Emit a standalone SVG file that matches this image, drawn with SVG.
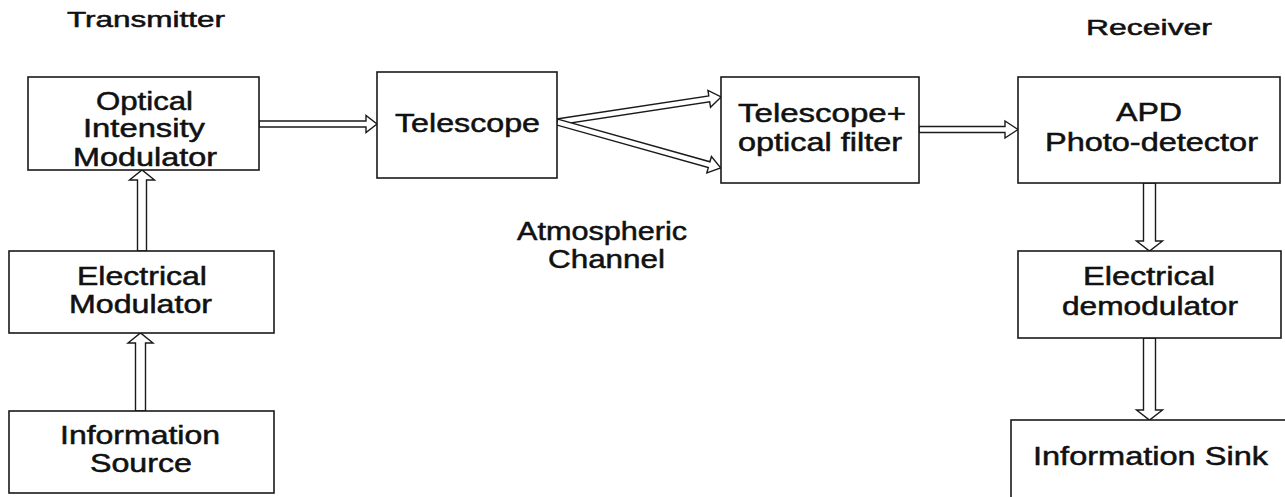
<svg xmlns="http://www.w3.org/2000/svg" width="1285" height="497" viewBox="0 0 1285 497">
<style>
  .box { fill: #ffffff; stroke: #1a1a1a; stroke-width: 1.6; }
  .arr { fill: #ffffff; stroke: #1a1a1a; stroke-width: 1.4; stroke-linejoin: miter; }
  .t { font-family: "Liberation Sans", Arial, sans-serif; font-size: 25px; fill: #111111; stroke: #111111; stroke-width: 0.5; }
  .h { font-family: "Liberation Sans", Arial, sans-serif; font-size: 22px; fill: #111111; stroke: #111111; stroke-width: 0.5; }
</style>
<rect x="0" y="0" width="1285" height="497" fill="#ffffff"/>

<g id="labels">
  <text class="h" x="67" y="27" textLength="158" lengthAdjust="spacingAndGlyphs">Transmitter</text>
  <text class="h" x="1086" y="35" textLength="126" lengthAdjust="spacingAndGlyphs">Receiver</text>
  <text class="t" x="517" y="240" textLength="170" lengthAdjust="spacingAndGlyphs">Atmospheric</text>
  <text class="t" x="548" y="268" textLength="117" lengthAdjust="spacingAndGlyphs">Channel</text>
</g>

<g id="connectors">
  <polygon class="arr" points="259,121 366,121 366,115.5 377,124 366,132.5 366,127 259,127"/>
  <polygon class="arr" points="919,126.5 1005,126.5 1005,121 1018,129.5 1005,138 1005,132.5 919,132.5"/>
  <polygon class="arr" points="137.5,251 137.5,180 129.5,180 142,170 154.5,180 146.5,180 146.5,251"/>
  <polygon class="arr" points="135.5,411 135.5,343 128,343 140.5,333 153,343 145.5,343 145.5,411"/>
  <polygon class="arr" points="1143.5,183 1143.5,241 1136.5,241 1149.5,251 1162.5,241 1155.5,241 1155.5,183"/>
  <polygon class="arr" points="1143.5,338 1143.5,410 1136.5,410 1149.5,420 1162.5,410 1155.5,410 1155.5,338"/>
  <polygon class="arr" transform="translate(557,122) rotate(-8.67)" points="0,-3 154,-3 154,-8.5 166,0 154,8.5 154,3 0,3"/>
  <polygon class="arr" transform="translate(557,122) rotate(15.67)" points="0,-3 158,-3 158,-8.5 170,0 158,8.5 158,3 0,3"/>
</g>

<g id="optical-modulator">
  <rect class="box" x="28" y="77" width="231" height="93"/>
  <text class="t" x="96" y="110" textLength="97" lengthAdjust="spacingAndGlyphs">Optical</text>
  <text class="t" x="83" y="137" textLength="122" lengthAdjust="spacingAndGlyphs">Intensity</text>
  <text class="t" x="73" y="166" textLength="144" lengthAdjust="spacingAndGlyphs">Modulator</text>
</g>

<g id="telescope">
  <rect class="box" x="377" y="72" width="180" height="106"/>
  <text class="t" x="395" y="132" textLength="145" lengthAdjust="spacingAndGlyphs">Telescope</text>
</g>

<g id="telescope-filter">
  <rect class="box" x="721" y="77" width="198" height="106"/>
  <text class="t" x="738" y="122" textLength="168" lengthAdjust="spacingAndGlyphs">Telescope+</text>
  <text class="t" x="738" y="151" textLength="164" lengthAdjust="spacingAndGlyphs">optical filter</text>
</g>

<g id="apd">
  <rect class="box" x="1018" y="77" width="262" height="106"/>
  <text class="t" x="1116" y="121" textLength="66" lengthAdjust="spacingAndGlyphs">APD</text>
  <text class="t" x="1045" y="151" textLength="213" lengthAdjust="spacingAndGlyphs">Photo-detector</text>
</g>

<g id="electrical-modulator">
  <rect class="box" x="9" y="251" width="265" height="82"/>
  <text class="t" x="77" y="285" textLength="130" lengthAdjust="spacingAndGlyphs">Electrical</text>
  <text class="t" x="69" y="313" textLength="143" lengthAdjust="spacingAndGlyphs">Modulator</text>
</g>

<g id="information-source">
  <rect class="box" x="9" y="411" width="265" height="82"/>
  <text class="t" x="60" y="444" textLength="160" lengthAdjust="spacingAndGlyphs">Information</text>
  <text class="t" x="90" y="472" textLength="102" lengthAdjust="spacingAndGlyphs">Source</text>
</g>

<g id="electrical-demodulator">
  <rect class="box" x="1018" y="251" width="263" height="87"/>
  <text class="t" x="1083" y="285" textLength="132" lengthAdjust="spacingAndGlyphs">Electrical</text>
  <text class="t" x="1062" y="315" textLength="176" lengthAdjust="spacingAndGlyphs">demodulator</text>
</g>

<g id="information-sink">
  <rect class="box" x="1011" y="420" width="290" height="100"/>
  <text class="t" x="1033" y="465" textLength="235" lengthAdjust="spacingAndGlyphs">Information Sink</text>
</g>
</svg>
